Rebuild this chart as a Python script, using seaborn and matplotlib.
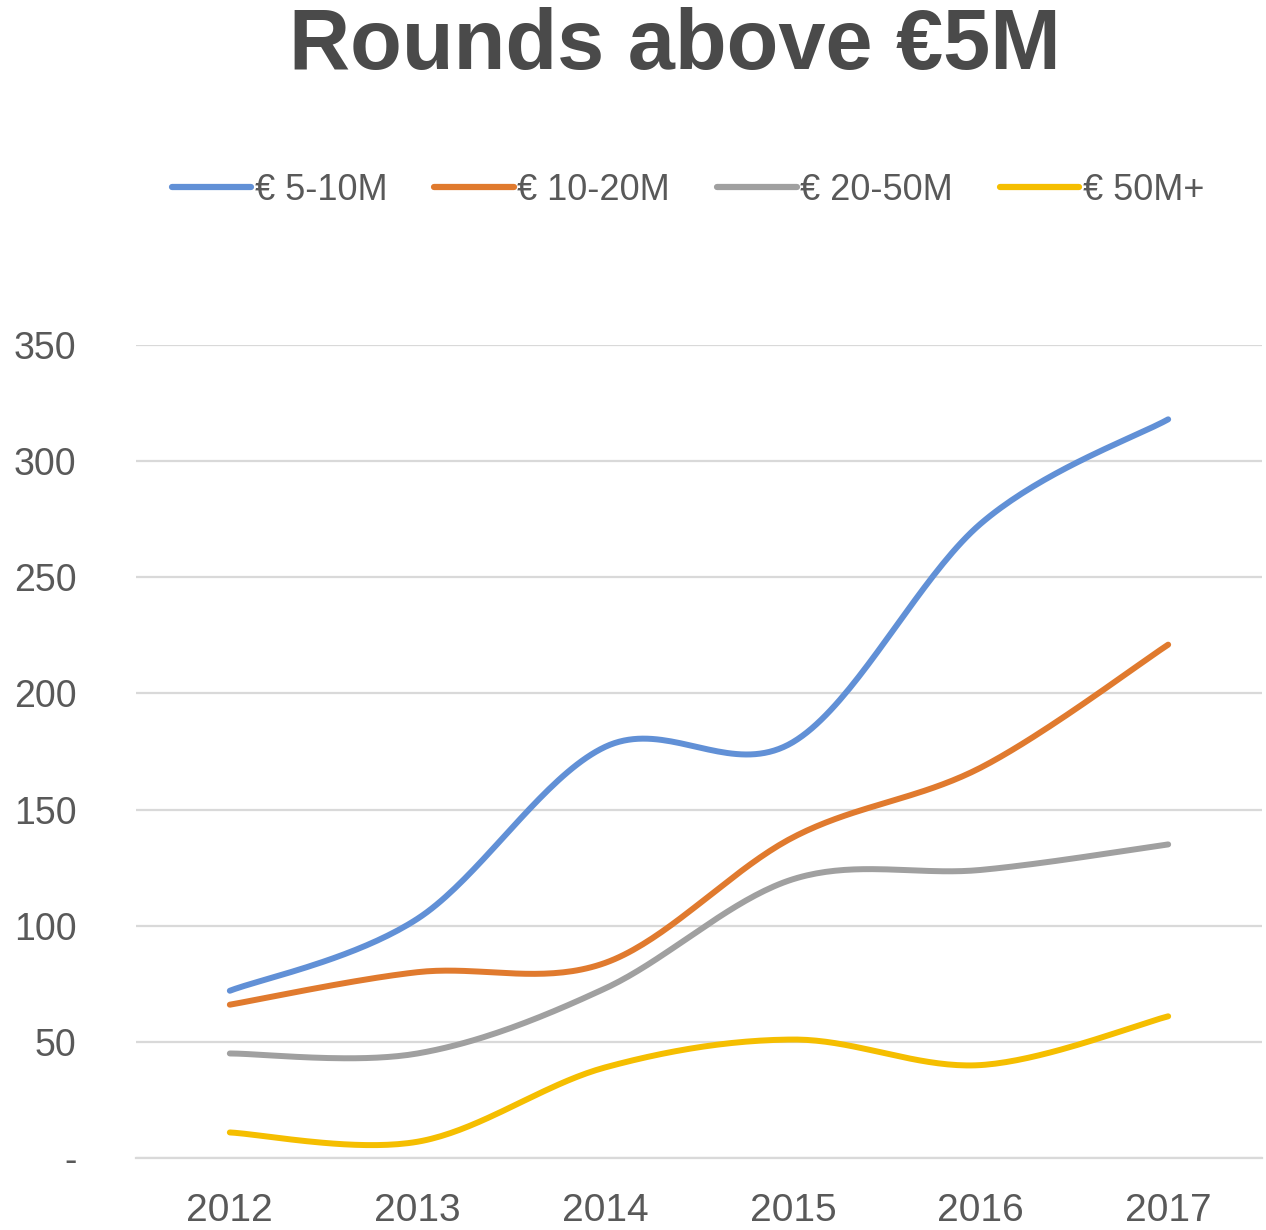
import numpy as np
import pandas as pd
import matplotlib
matplotlib.use("Agg")
import matplotlib.pyplot as plt
import seaborn as sns
from matplotlib.lines import Line2D

# ---- data ----
years = [2012, 2013, 2014, 2015, 2016, 2017]
series_names = ["€ 5-10M", "€ 10-20M", "€ 20-50M", "€ 50M+"]
rounds_5_10 = [72, 103, 177, 179, 273, 318]
rounds_10_20 = [66, 80, 84, 138, 168, 221]
rounds_20_50 = [45, 45, 73, 120, 124, 135]
rounds_50_plus = [11, 7, 39, 51, 40, 61]
y_ticks = [0, 50, 100, 150, 200, 250, 300, 350]
y_tick_labels = ["-", "50", "100", "150", "200", "250", "300", "350"]
colors = ["#6190D6", "#E07A2E", "#A0A0A0", "#F5BE00"]

all_series = [rounds_5_10, rounds_10_20, rounds_20_50, rounds_50_plus]


def smooth(xs, ys, n=40):
    """Catmull-Rom style smoothing (like Excel's smoothed line) for rendering."""
    xs = np.asarray(xs, float)
    ys = np.asarray(ys, float)
    px = np.concatenate([[xs[0]], xs, [xs[-1]]])
    py = np.concatenate([[ys[0]], ys, [ys[-1]]])
    outx, outy = [], []
    for i in range(1, len(px) - 2):
        p0 = np.array([px[i - 1], py[i - 1]])
        p1 = np.array([px[i], py[i]])
        p2 = np.array([px[i + 1], py[i + 1]])
        p3 = np.array([px[i + 2], py[i + 2]])
        c1 = p1 + (p2 - p0) / 6.0
        c2 = p2 - (p3 - p1) / 6.0
        t = np.linspace(0, 1, n, endpoint=(i == len(px) - 3))
        t = t[:, None]
        pts = ((1 - t) ** 3) * p1 + 3 * ((1 - t) ** 2) * t * c1 + 3 * (1 - t) * t ** 2 * c2 + t ** 3 * p2
        outx.extend(pts[:, 0])
        outy.extend(pts[:, 1])
    return np.array(outx), np.array(outy)


frames = []
for name, vals in zip(series_names, all_series):
    sx, sy = smooth(years, vals)
    frames.append(pd.DataFrame({"year": sx, "value": sy, "series": name}))
df = pd.concat(frames, ignore_index=True)

sns.set_theme(style="white")
plt.rcParams["font.family"] = ["Liberation Sans", "DejaVu Sans"]

fig = plt.figure(figsize=(12.66, 12.30), dpi=100)
ax = fig.add_axes([136 / 1266, 1 - 1158 / 1230, (1262 - 136) / 1266, (1158 - 345) / 1230])

sns.lineplot(data=df, x="year", y="value", hue="series", hue_order=series_names,
             palette=colors, sort=False, estimator=None, units="series",
             linewidth=4.3, ax=ax, legend=False)

ax.set_xlim(2011.5, 2017.5)
ax.set_ylim(0, 350)
ax.set_yticks(y_ticks)
ax.set_yticklabels(y_tick_labels)
ax.set_xticks(years)
ax.set_xticklabels([str(y) for y in years])
ax.yaxis.grid(True, color="#D9D9D9", linewidth=1.6)
ax.xaxis.grid(False)
for s in ["top", "right", "left"]:
    ax.spines[s].set_visible(False)
ax.spines["bottom"].set_color("#D9D9D9")
ax.spines["bottom"].set_linewidth(1.6)
ax.tick_params(axis="y", length=0, pad=43, labelsize=27, labelcolor="#595959")
ax.tick_params(axis="x", length=0, pad=25, labelsize=28, labelcolor="#595959")
ax.set_xlabel("")
ax.set_ylabel("")

# legend
handles = [Line2D([0], [0], color=c, linewidth=4.5) for c in colors]
fig.legend(handles, series_names, loc="center", bbox_to_anchor=(688 / 1266, 1 - 190 / 1230),
           ncol=4, frameon=False, fontsize=26, labelcolor="#595959",
           handlelength=2.2, handletextpad=0.1, columnspacing=1.3)

fig.text(675 / 1266, 1 - 47 / 1230, "Rounds above €5M", ha="center", va="center",
         fontsize=61, fontweight="bold", color="#4A4A4A")

fig.savefig("out.png", dpi=100)
